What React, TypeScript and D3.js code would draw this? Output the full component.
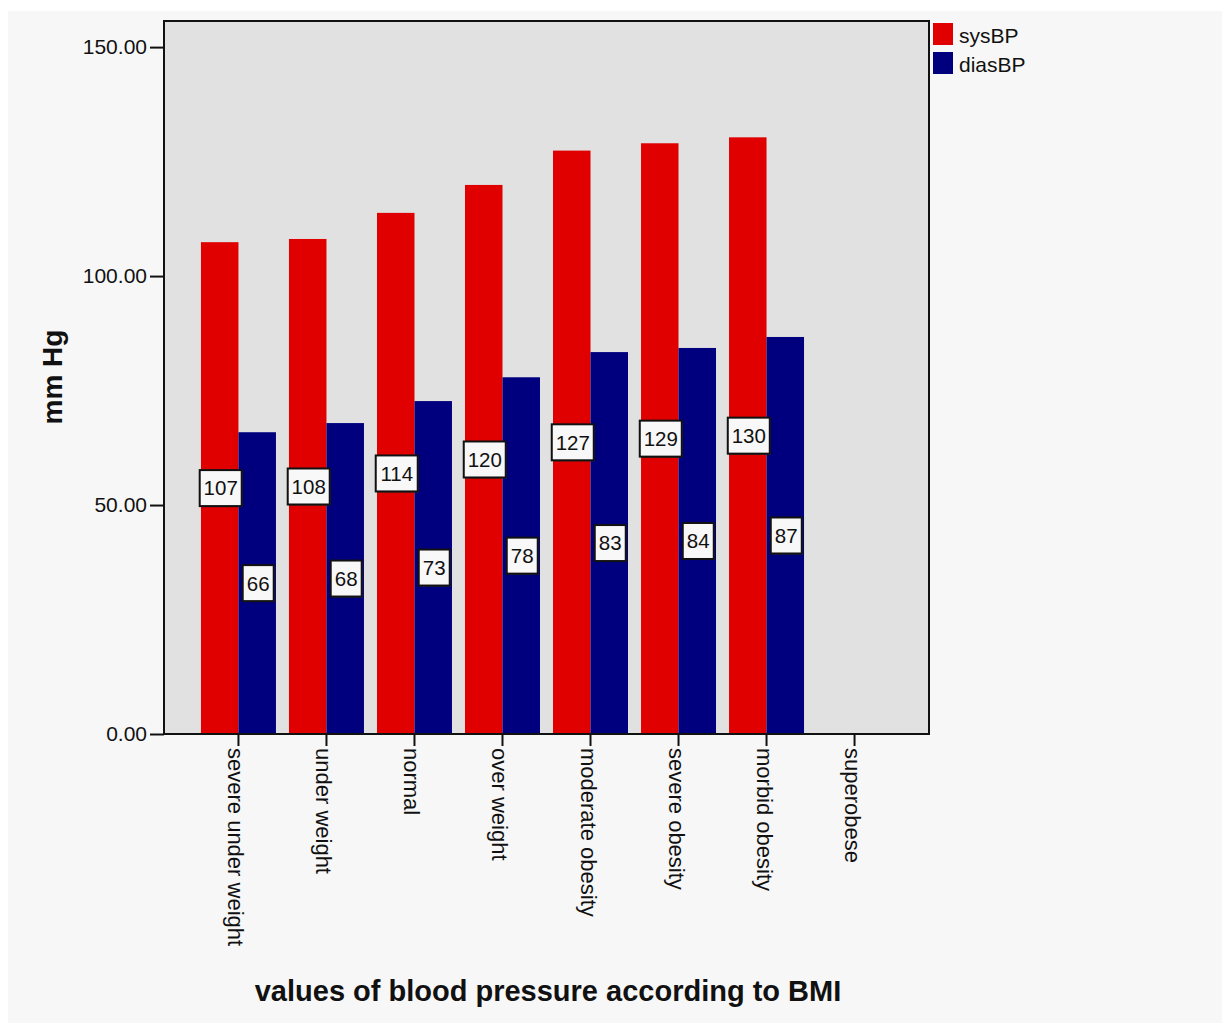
import { useEffect, useRef } from 'react';
import * as d3 from 'd3';

const categories = [
  'severe under weight',
  'under weight',
  'normal',
  'over weight',
  'moderate obesity',
  'severe obesity',
  'morbid obesity',
  'superobese',
];
const seriesNames = ['sysBP', 'diasBP'];
const sysBP = [107.4, 108.1, 113.8, 119.9, 127.4, 129.0, 130.3, null];
const diasBP = [65.9, 67.9, 72.7, 77.9, 83.4, 84.3, 86.7, null];
const yTicks = [0, 50, 100, 150];

const colors: Record<string, string> = { sysBP: '#e00000', diasBP: '#00007f' };
const FONT = '"Liberation Sans", Arial, sans-serif';

export default function App() {
  const ref = useRef<SVGSVGElement | null>(null);

  useEffect(() => {
    if (!ref.current) return;
    const svg = d3.select(ref.current);
    svg.selectAll('*').remove();

    const W = 1224;
    const H = 1025;
    const plot = { left: 164, top: 21, right: 929, bottom: 734 };

    // page background
    svg.append('rect').attr('x', 0).attr('y', 0).attr('width', W).attr('height', H).attr('fill', '#ffffff');
    svg.append('rect').attr('x', 8).attr('y', 11).attr('width', 1214).attr('height', 1012).attr('fill', '#f7f7f7');

    const y = d3.scaleLinear().domain([0, 155.7]).range([plot.bottom, plot.top]);
    const x0 = d3.scaleBand<string>()
      .domain(categories)
      .range([plot.left, plot.right])
      .paddingInner(0.148)
      .paddingOuter(0.42);
    const x1 = d3.scaleBand<string>().domain(seriesNames).range([0, x0.bandwidth()]);

    // plot area
    svg.append('rect')
      .attr('x', plot.left).attr('y', plot.top)
      .attr('width', plot.right - plot.left).attr('height', plot.bottom - plot.top)
      .attr('fill', '#e1e1e1');

    const rows = categories.map((c, i) => ({ cat: c, values: [
      { key: 'sysBP', v: sysBP[i] },
      { key: 'diasBP', v: diasBP[i] },
    ] }));

    const groups = svg.append('g').selectAll('g')
      .data(rows).enter().append('g')
      .attr('transform', d => `translate(${x0(d.cat)},0)`);

    groups.selectAll('rect')
      .data(d => d.values.filter(v => v.v != null))
      .enter().append('rect')
      .attr('x', d => x1(d.key)!)
      .attr('width', x1.bandwidth())
      .attr('y', d => y(d.v as number))
      .attr('height', d => plot.bottom - y(d.v as number))
      .attr('fill', d => colors[d.key]);

    // frame
    svg.append('rect')
      .attr('x', plot.left).attr('y', plot.top)
      .attr('width', plot.right - plot.left).attr('height', plot.bottom - plot.top)
      .attr('fill', 'none').attr('stroke', '#111').attr('stroke-width', 2);

    // y axis
    const yAxis = svg.append('g')
      .attr('transform', `translate(${plot.left},0)`)
      .call(d3.axisLeft(y).tickValues(yTicks).tickFormat(d3.format('.2f')).tickSize(14).tickPadding(3));
    yAxis.select('.domain').remove();
    yAxis.selectAll('line').attr('stroke', '#111').attr('stroke-width', 2);
    yAxis.selectAll('text')
      .attr('font-family', FONT).attr('font-size', 21).attr('fill', '#111');

    // x axis
    const xAxis = svg.append('g')
      .attr('transform', `translate(0,${plot.bottom})`)
      .call(d3.axisBottom(x0).tickSize(12));
    xAxis.select('.domain').remove();
    xAxis.selectAll('line').attr('stroke', '#111').attr('stroke-width', 2);
    xAxis.selectAll('text')
      .attr('font-family', FONT).attr('font-size', 22).attr('fill', '#111')
      .attr('x', 0).attr('y', 0).attr('dy', null)
      .attr('text-anchor', 'start')
      .attr('transform', 'translate(-10,14) rotate(90)');

    // value labels
    const labels = groups.selectAll('g.lbl')
      .data(d => d.values.filter(v => v.v != null))
      .enter().append('g')
      .attr('class', 'lbl')
      .attr('transform', d => `translate(${x1(d.key)! + x1.bandwidth() / 2 + 1},${(y(d.v as number) + plot.bottom) / 2})`);
    labels.each(function (d) {
      const g = d3.select(this);
      const txt = d3.format('.0f')(d.v as number);
      const w = txt.length === 3 ? 42 : 31;
      const h = 36;
      g.append('rect').attr('x', -w / 2 + 1).attr('y', -h / 2 + 1).attr('width', w).attr('height', h).attr('fill', '#333');
      g.append('rect').attr('x', -w / 2).attr('y', -h / 2).attr('width', w).attr('height', h)
        .attr('fill', '#f8f8f8').attr('stroke', '#111').attr('stroke-width', 2);
      g.append('text').attr('text-anchor', 'middle').attr('dy', '0.36em')
        .attr('font-family', FONT).attr('font-size', 20.5).attr('fill', '#111').text(txt);
    });

    // legend
    const legend = svg.append('g').attr('transform', 'translate(933,23)');
    seriesNames.forEach((s, i) => {
      legend.append('rect').attr('x', 0).attr('y', i * 29).attr('width', 20).attr('height', 22).attr('fill', colors[s]);
      legend.append('text').attr('x', 26).attr('y', i * 29 + 20)
        .attr('font-family', FONT).attr('font-size', 21).attr('fill', '#111').text(s);
    });

    // axis titles
    svg.append('text')
      .attr('transform', 'translate(62,377) rotate(-90)')
      .attr('text-anchor', 'middle')
      .attr('font-family', FONT).attr('font-size', 28).attr('font-weight', 'bold').attr('fill', '#111')
      .text('mm Hg');
    svg.append('text')
      .attr('x', 548).attr('y', 1001)
      .attr('text-anchor', 'middle')
      .attr('font-family', FONT).attr('font-size', 29).attr('font-weight', 'bold').attr('fill', '#111')
      .text('values of blood pressure according to BMI');
  }, []);

  return (
    <svg
      ref={ref}
      width={1224}
      height={1025}
      style={{ position: 'absolute', left: 0, top: 0 }}
    />
  );
}
